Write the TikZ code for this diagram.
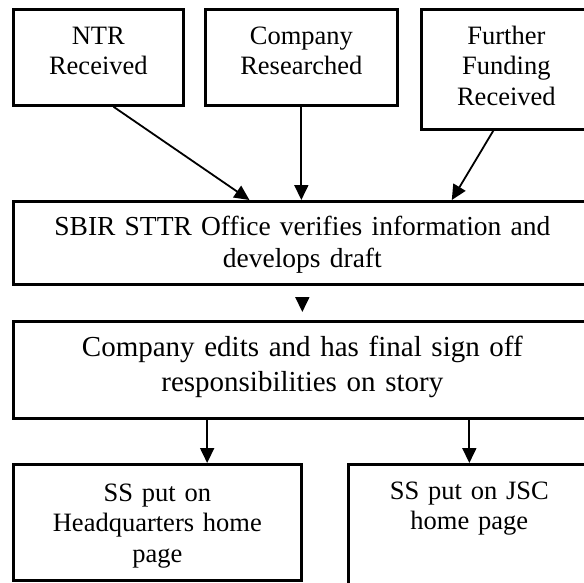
\documentclass[tikz,border=0pt]{standalone}
\usepackage{fontspec}
\setmainfont{Liberation Serif}
\usetikzlibrary{arrows.meta}

\begin{document}
\begin{tikzpicture}[x=1pt,y=-1pt,
  stage/.style={draw, black, line width=2.7pt, inner sep=0pt, align=center, anchor=north west, text height=35pt},
  small/.style={font=\fontsize{26.5}{30.5}\selectfont},
  flow/.style={black, line width=1.8pt, ->, >={Triangle[length=15pt,width=14pt]}}]
  \useasboundingbox (0,0) rectangle (584,582);
  \clip (0,0) rectangle (584,582);
  % top row
  \node[stage, small, text width=170pt, text depth=61pt] (ntr) at (12,8) {NTR\\Received};
  \node[stage, small, text width=192pt, text depth=61pt] (res) at (204,8) {Company\\Researched};
  \node[stage, small, text width=170pt, text depth=85pt] (fund) at (420,8) {Further\\Funding\\Received};
  % office and company
  \node[stage, font=\fontsize{27.5}{32}\selectfont, text width=578pt, text height=34pt, text depth=49pt] (sbir) at (12,200) {SBIR STTR Office verifies information and\\develops draft};
  \node[stage, font=\fontsize{29}{35}\selectfont, text width=578pt, text depth=62pt] (edit) at (12,320) {Company edits and has final sign off\\responsibilities on story};
  % home pages
  \node[stage, small, text width=288pt, text height=37pt, text depth=79pt] (hq) at (12,463) {SS put on\\Headquarters home\\page};
  \node[stage, small, text width=242pt, text depth=105pt] (jsc) at (347,463) {SS put on JSC\\home page};
  \draw[flow] (ntr.-73.74) -- (sbir.141.9);
  \draw[flow] (res.south) -- (res.south |- sbir.north);
  \draw[flow] (fund.-102.5) -- (sbir.16.08);
  \draw[flow, shorten <=13pt, shorten >=8pt] (sbir.south) -- (edit.north);
  \draw[flow] (hq.50.4 |- edit.south) -- (hq.50.4);
  \draw[flow] (jsc.north |- edit.south) -- (jsc.north);
\end{tikzpicture}
\end{document}
